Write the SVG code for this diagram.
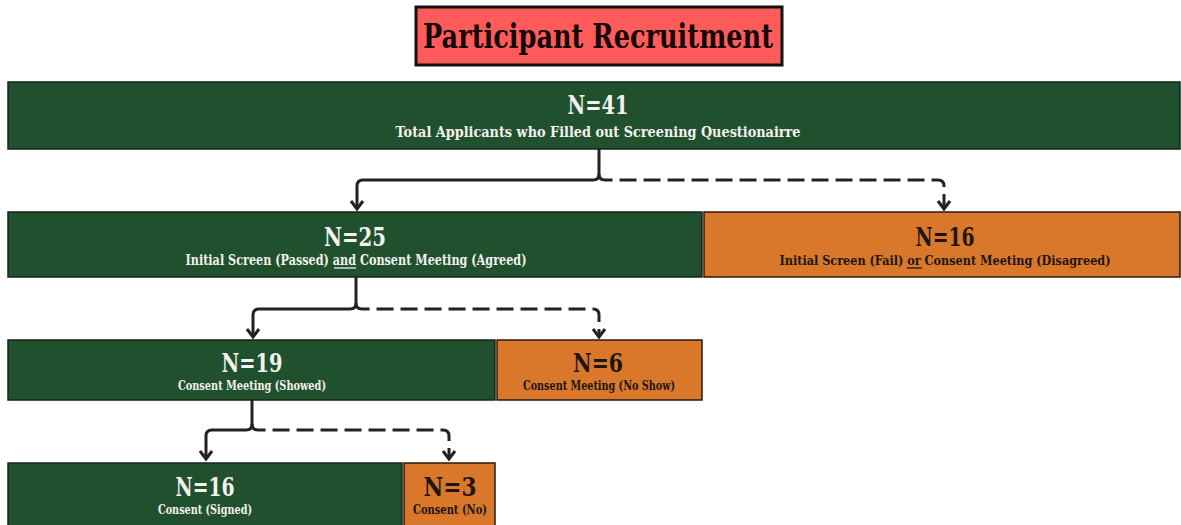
<svg xmlns="http://www.w3.org/2000/svg" width="1181" height="525" viewBox="0 0 1181 525">
  <style>
    .pass { fill: #21502F; stroke: #15251a; stroke-width: 1.5; }
    .fail { fill: #D9772B; stroke: #2a1a10; stroke-width: 1.5; }
    .n { font-family: "DejaVu Serif", "Liberation Serif", serif; font-weight: bold; font-size: 26px; text-anchor: middle; }
    .sub { font-family: "DejaVu Serif", "Liberation Serif", serif; font-weight: bold; font-size: 14px; text-anchor: middle; }
    .sm { font-size: 12.5px; }
    .light { fill: #F2F2EE; }
    .dark { fill: #1E1512; }
    .link { fill: none; stroke: #222; stroke-width: 3; stroke-linecap: butt; stroke-linejoin: round; }
    .dash { stroke-dasharray: 17 7; }
    .ul { stroke-width: 1.3; }
  </style>
  <defs>
    <marker id="chev" markerUnits="userSpaceOnUse" markerWidth="20" markerHeight="20" refX="0" refY="0" orient="auto" overflow="visible">
      <path d="M-8,-6 L0,0 L-8,6" fill="none" stroke="#222" stroke-width="3" stroke-dasharray="none" stroke-linejoin="miter"/>
    </marker>
  </defs>
  <rect width="1181" height="525" fill="#FFFFFF"/>

  <!-- title -->
  <g id="title">
    <rect x="416" y="7" width="366" height="58" fill="#FF5B5B" stroke="#111" stroke-width="3"/>
    <text x="598" y="48" font-family="DejaVu Serif, Liberation Serif, serif" font-weight="bold" font-size="33" text-anchor="middle" fill="#150808" textLength="350" lengthAdjust="spacingAndGlyphs">Participant Recruitment</text>
  </g>

  <!-- connectors -->
  <g id="connectors">
    <path class="link" d="M599,149 V174 Q599,180 593,180 H363 Q357,180 357,186 V209" marker-end="url(#chev)"/>
    <path class="link dash" d="M599,174 Q599,180 605,180 H938 Q944,180 944,186 V209" marker-end="url(#chev)"/>
    <path class="link" d="M356,277 V303 Q356,309 350,309 H259 Q253,309 253,315 V337" marker-end="url(#chev)"/>
    <path class="link dash" d="M356,303 Q356,309 362,309 H593 Q599,309 599,315 V337" marker-end="url(#chev)"/>
    <path class="link" d="M252,400 V424 Q252,430 246,430 H212 Q206,430 206,436 V459" marker-end="url(#chev)"/>
    <path class="link dash" d="M252,424 Q252,430 258,430 H443 Q449,430 449,436 V459" marker-end="url(#chev)"/>
  </g>

  <!-- level 1 -->
  <g id="total">
    <rect class="pass" x="8" y="82" width="1172" height="67"/>
    <text class="n light" x="598" y="114" textLength="61" lengthAdjust="spacingAndGlyphs">N=41</text>
    <text class="sub light" x="598" y="137" textLength="405" lengthAdjust="spacingAndGlyphs">Total Applicants who Filled out Screening Questionairre</text>
  </g>

  <!-- level 2 -->
  <g id="passed">
    <rect class="pass" x="8" y="212" width="694" height="65"/>
    <text class="n light" x="355" y="246" textLength="62" lengthAdjust="spacingAndGlyphs">N=25</text>
    <text class="sub light" x="356" y="265" textLength="341" lengthAdjust="spacingAndGlyphs">Initial Screen (Passed) and Consent Meeting (Agreed)</text>
    <line class="ul" x1="334" y1="268" x2="356" y2="268" stroke="#F2F2EE"/>
  </g>
  <g id="failed">
    <rect class="fail" x="704" y="212" width="476" height="65"/>
    <text class="n dark" x="945" y="246" textLength="59" lengthAdjust="spacingAndGlyphs">N=16</text>
    <text class="sub dark" x="945" y="265" style="font-size:12.5px" textLength="331" lengthAdjust="spacingAndGlyphs">Initial Screen (Fail) or Consent Meeting (Disagreed)</text>
    <line class="ul" x1="907" y1="268" x2="922" y2="268" stroke="#1E1512"/>
  </g>

  <!-- level 3 -->
  <g id="showed">
    <rect class="pass" x="8" y="340" width="487" height="60"/>
    <text class="n light" x="252" y="372" textLength="61" lengthAdjust="spacingAndGlyphs">N=19</text>
    <text class="sub sm light" x="252" y="390" textLength="148" lengthAdjust="spacingAndGlyphs">Consent Meeting (Showed)</text>
  </g>
  <g id="noshow">
    <rect class="fail" x="497" y="340" width="205" height="60"/>
    <text class="n dark" x="598" y="372" textLength="50" lengthAdjust="spacingAndGlyphs">N=6</text>
    <text class="sub sm dark" x="599" y="390" textLength="152" lengthAdjust="spacingAndGlyphs">Consent Meeting (No Show)</text>
  </g>

  <!-- level 4 -->
  <g id="signed">
    <rect class="pass" x="8" y="463" width="394" height="70"/>
    <text class="n light" x="205" y="496" textLength="59" lengthAdjust="spacingAndGlyphs">N=16</text>
    <text class="sub sm light" x="205" y="514" textLength="94" lengthAdjust="spacingAndGlyphs">Consent (Signed)</text>
  </g>
  <g id="declined">
    <rect class="fail" x="404" y="463" width="91" height="70"/>
    <text class="n dark" x="450" y="496" textLength="53" lengthAdjust="spacingAndGlyphs">N=3</text>
    <text class="sub sm dark" x="450" y="514" textLength="74" lengthAdjust="spacingAndGlyphs">Consent (No)</text>
  </g>
</svg>
